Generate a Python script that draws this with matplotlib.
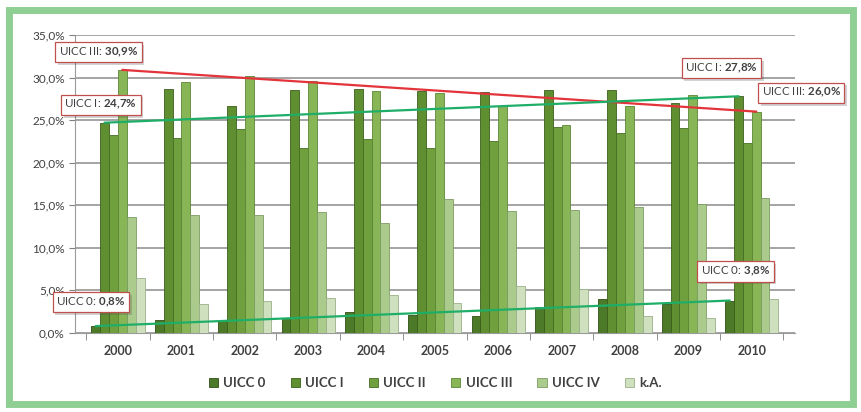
import numpy as np
import matplotlib.pyplot as plt
import matplotlib.patheffects as pe
from matplotlib.patches import Rectangle

plt.rcParams['font.family'] = ['Lato', 'DejaVu Sans']
plt.rcParams['mathtext.fontset'] = 'custom'
plt.rcParams['mathtext.rm'] = 'Lato'
plt.rcParams['mathtext.bf'] = 'Lato:bold'

years = ['2000', '2001', '2002', '2003', '2004', '2005', '2006', '2007', '2008', '2009', '2010']
series = ['UICC 0', 'UICC I', 'UICC II', 'UICC III', 'UICC IV', 'k.A.']

uicc0 = [0.8, 1.5, 1.4, 1.8, 2.5, 2.1, 2.0, 3.0, 4.0, 3.4, 3.8]
uicc1 = [24.7, 28.6, 26.7, 28.5, 28.6, 28.4, 28.3, 28.5, 28.5, 27.0, 27.8]
uicc2 = [23.3, 22.9, 23.9, 21.7, 22.8, 21.7, 22.6, 24.2, 23.5, 24.1, 22.3]
uicc3 = [30.9, 29.5, 30.2, 29.6, 28.4, 28.2, 26.7, 24.4, 26.7, 27.9, 26.0]
uicc4 = [13.6, 13.8, 13.8, 14.2, 12.9, 15.7, 14.3, 14.4, 14.8, 15.2, 15.9]
ka = [6.5, 3.4, 3.8, 4.1, 4.4, 3.5, 5.5, 5.2, 2.0, 1.8, 4.0]

colors = ['#4d7a28', '#5f8f31', '#70a03d', '#88b657', '#aacb8c', '#cfe0bf']
edges = ['#2f4f16', '#3b5e1c', '#466e24', '#5c8636', '#7c9c62', '#9bb089']

fig = plt.figure(figsize=(8.62, 4.12), dpi=100)
ax = fig.add_axes([0.087, 0.192, 0.835, 0.723])

x = np.arange(len(years))
w = 0.14
data = [uicc0, uicc1, uicc2, uicc3, uicc4, ka]
for i, vals in enumerate(data):
    ax.bar(x + (i - 2.5) * w, vals, w, color=colors[i], edgecolor=edges[i],
           linewidth=0.6, label=series[i], zorder=3)

# trend lines between first and last year
def trend(i, vals, color):
    xs = [x[0] + (i - 2.5) * w, x[-1] + (i - 2.5) * w]
    ax.plot(xs, [vals[0], vals[-1]], color=color, lw=1.6, zorder=5)

trend(3, uicc3, '#e2343a')
trend(1, uicc1, '#1fae68')
trend(0, uicc0, '#1fae68')

def label(i, k, vals, name, dx, dy):
    v = ('%.1f' % vals[k]).replace('.', '{,}')
    t = ax.annotate(name + ': $\\mathbf{' + v + '\\%}$',
                    xy=(x[k] + (i - 2.5) * w, vals[k]), xytext=(dx, dy),
                    textcoords='offset pixels', ha='center', va='center',
                    fontsize=8.3, color='#404040', zorder=7,
                    bbox=dict(boxstyle='square,pad=0.3', fc='white', ec='#c0504d', lw=0.9))
    t.get_bbox_patch().set_path_effects([pe.SimplePatchShadow(offset=(2, -2), alpha=0.25),
                                         pe.Normal()])

label(3, 0, uicc3, 'UICC III', -24, 18)
label(1, 0, uicc1, 'UICC I', -4, 18)
label(0, 0, uicc0, 'UICC 0', -5, 24)
label(1, 10, uicc1, 'UICC I', -17, 28)
label(3, 10, uicc3, 'UICC III', 45, 19)
label(0, 10, uicc0, 'UICC 0', 6, 29)

ax.set_xlim(-0.68, 10.68)
ax.set_ylim(0, 35)
ax.set_yticks(np.arange(0, 36, 5))
ax.set_yticklabels([('%.1f%%' % t).replace('.', ',') for t in np.arange(0, 36, 5)],
                   fontsize=8.5, color='#404040')
ax.set_xticks(x)
ax.set_xticklabels(years, fontsize=9, fontweight='bold', color='#404040')
ax.set_xticks(np.arange(-0.5, 11, 1), minor=True)
ax.tick_params(axis='x', which='major', length=0, pad=9)
ax.tick_params(axis='x', which='minor', length=5, color='#808080')
ax.tick_params(axis='y', length=4, color='#808080')
ax.grid(axis='y', color='#8c8c8c', lw=1.1, zorder=0)
for s in ['top', 'right']:
    ax.spines[s].set_visible(False)
for s in ['left', 'bottom']:
    ax.spines[s].set_color('#9a9a9a')

leg = fig.legend(loc='center', bbox_to_anchor=(0.505, 0.07), ncol=6, frameon=False,
                 fontsize=9.5, handlelength=0.7, handleheight=0.7, handletextpad=0.4,
                 columnspacing=1.9)
for t in leg.get_texts():
    t.set_fontweight('bold')
    t.set_color('#404040')

# green frame
fig.patches.append(Rectangle((0.01, 0.02), 0.98, 0.955, transform=fig.transFigure,
                             fill=False, ec='#8fcf94', lw=5))

fig.savefig('out.png', dpi=100)
